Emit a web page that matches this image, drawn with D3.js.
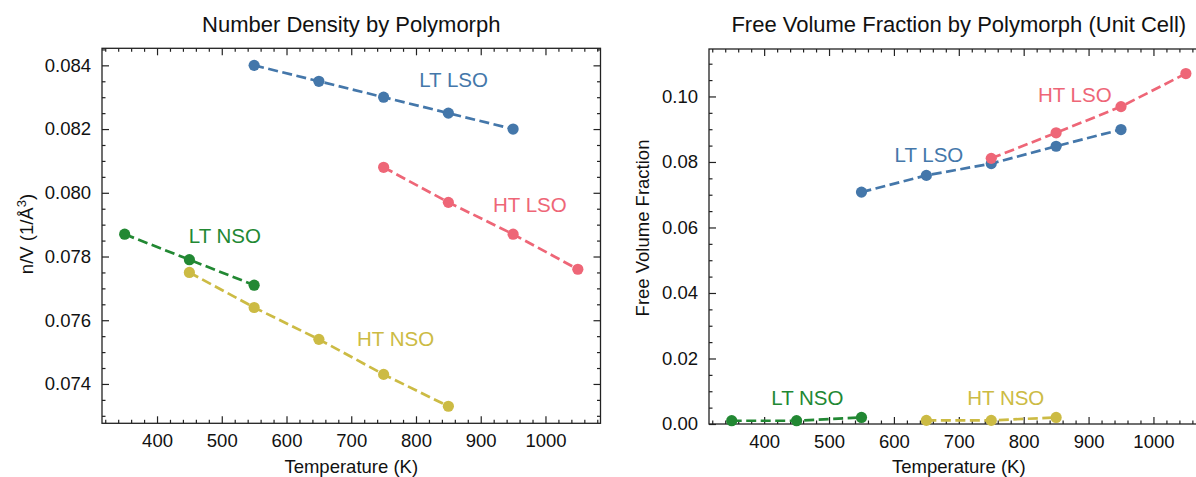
<!DOCTYPE html>
<html>
<head>
<meta charset="utf-8">
<script src="https://cdn.jsdelivr.net/npm/d3@7"></script>
<style>
  html, body { margin: 0; padding: 0; background: #fff; overflow: hidden; }
  svg { display: block; }
  text { font-family: "Liberation Sans", Arial, Helvetica, sans-serif; fill: #111; }
</style>
</head>
<body>
<svg id="chart" width="1196" height="477"></svg>
<script>
// Temperatures (K) for each polymorph
const tempLTLSO = [550, 650, 750, 850, 950];
const tempHTLSO = [750, 850, 950, 1050];
const tempLTNSO = [350, 450, 550];
const tempHTNSO_density = [450, 550, 650, 750, 850];
const tempHTNSO_free = [650, 750, 850];

// Number density n/V (1/Å^3)
const densLTLSO = [0.0840, 0.0835, 0.0830, 0.0825, 0.0820];
const densHTLSO = [0.0808, 0.0797, 0.0787, 0.0776];
const densLTNSO = [0.0787, 0.0779, 0.0771];
const densHTNSO = [0.0775, 0.0764, 0.0754, 0.0743, 0.0733];

// Free volume fraction (unit cell)
const fvfLTLSO = [0.0708, 0.0759, 0.0795, 0.0848, 0.0899];
const fvfHTLSO = [0.0811, 0.0889, 0.0969, 0.1070];
const fvfLTNSO = [0.0010, 0.0010, 0.0020];
const fvfHTNSO = [0.0011, 0.0011, 0.0020];

const seriesNames = ["LT LSO", "HT LSO", "LT NSO", "HT NSO"];
const seriesColors = ["#4477AA", "#EE6677", "#228833", "#CCBB44"];

// Label anchor points, in data units: [temperature, value]
const densLabelPos = [[805, 0.08332], [919, 0.07940], [449, 0.07841], [709, 0.07519]];
const fvfLabelPos = [[601, 0.0799], [822, 0.0984], [411, 0.0057], [713, 0.0057]];

const xTicks = [400, 500, 600, 700, 800, 900, 1000];
const densTicks = [0.074, 0.076, 0.078, 0.080, 0.082, 0.084];
const fvfTicks = [0.00, 0.02, 0.04, 0.06, 0.08, 0.10];

const svg = d3.select("#chart");

function rangeStep(lo, hi, step) {
  const out = [];
  const start = Math.ceil(lo / step - 1e-9);
  const end = Math.floor(hi / step + 1e-9);
  for (let i = start; i <= end; i++) out.push(+(i * step).toFixed(6));
  return out;
}

function panel(opt) {
  const g = svg.append("g");
  const x = d3.scaleLinear().domain(opt.xDomain).range([opt.left, opt.right]);
  const y = d3.scaleLinear().domain(opt.yDomain).range([opt.bottom, opt.top]);

  const major = 7, minor = 3.5, pad = 11;
  const xMinor = rangeStep(opt.xDomain[0], opt.xDomain[1], 20).filter(v => v % 100 !== 0);
  const yMinor = rangeStep(opt.yDomain[0], opt.yDomain[1], opt.yMinorStep)
    .filter(v => !opt.yTicks.some(t => Math.abs(t - v) < 1e-9));

  function styleAxis(sel) {
    sel.select(".domain").remove();
    sel.selectAll(".tick line").attr("stroke", "#222").attr("stroke-width", 1.2);
    sel.selectAll(".tick text").attr("font-size", "18.5px").attr("fill", "#111")
      .style("font-family", '"Liberation Sans", Arial, Helvetica, sans-serif');
  }

  // bottom
  g.append("g").attr("transform", `translate(0,${opt.bottom})`)
    .call(d3.axisBottom(x).tickValues(xTicks).tickFormat(d3.format("d")).tickSize(-major).tickPadding(pad))
    .call(styleAxis);
  g.append("g").attr("transform", `translate(0,${opt.bottom})`)
    .call(d3.axisBottom(x).tickValues(xMinor).tickFormat("").tickSize(-minor))
    .call(styleAxis);
  // top
  g.append("g").attr("transform", `translate(0,${opt.top})`)
    .call(d3.axisTop(x).tickValues(xTicks).tickFormat("").tickSize(-major))
    .call(styleAxis);
  g.append("g").attr("transform", `translate(0,${opt.top})`)
    .call(d3.axisTop(x).tickValues(xMinor).tickFormat("").tickSize(-minor))
    .call(styleAxis);
  // left
  g.append("g").attr("transform", `translate(${opt.left},0)`)
    .call(d3.axisLeft(y).tickValues(opt.yTicks).tickFormat(d3.format(opt.yFormat)).tickSize(-major).tickPadding(pad))
    .call(styleAxis);
  g.append("g").attr("transform", `translate(${opt.left},0)`)
    .call(d3.axisLeft(y).tickValues(yMinor).tickFormat("").tickSize(-minor))
    .call(styleAxis);
  // right
  g.append("g").attr("transform", `translate(${opt.right},0)`)
    .call(d3.axisRight(y).tickValues(opt.yTicks).tickFormat("").tickSize(-major))
    .call(styleAxis);
  g.append("g").attr("transform", `translate(${opt.right},0)`)
    .call(d3.axisRight(y).tickValues(yMinor).tickFormat("").tickSize(-minor))
    .call(styleAxis);

  // frame
  g.append("rect")
    .attr("x", opt.left).attr("y", opt.top)
    .attr("width", opt.right - opt.left).attr("height", opt.bottom - opt.top)
    .attr("fill", "none").attr("stroke", "#222").attr("stroke-width", 1.3);

  // series
  const line = d3.line().x(d => x(d[0])).y(d => y(d[1]));
  opt.series.forEach((s, i) => {
    const pts = s.t.map((t, j) => [t, s.v[j]]);
    const sg = g.append("g");
    sg.append("path").datum(pts)
      .attr("d", line)
      .attr("fill", "none")
      .attr("stroke", seriesColors[i])
      .attr("stroke-width", 2.7)
      .attr("stroke-dasharray", "10,4.5");
    sg.selectAll("circle").data(pts).join("circle")
      .attr("cx", d => x(d[0])).attr("cy", d => y(d[1]))
      .attr("r", 5.6).attr("fill", seriesColors[i]);
  });

  // series labels
  opt.labels.forEach((p, i) => {
    g.append("text")
      .attr("x", x(p[0])).attr("y", y(p[1]))
      .attr("font-size", "20.5px")
      .style("fill", seriesColors[i])
      .text(seriesNames[i]);
  });

  // title
  g.append("text")
    .attr("x", (opt.left + opt.right) / 2).attr("y", 32)
    .attr("text-anchor", "middle").attr("font-size", "22px")
    .text(opt.title);

  // x label
  g.append("text")
    .attr("x", (opt.left + opt.right) / 2).attr("y", 472.5)
    .attr("text-anchor", "middle").attr("font-size", "18.5px")
    .text("Temperature (K)");

  // y label
  const yl = g.append("text")
    .attr("transform", `translate(${opt.yLabelX},${opt.yLabelY}) rotate(-90)`)
    .attr("text-anchor", "middle").attr("font-size", "18.5px");
  opt.yLabel(yl);
}

panel({
  left: 102, right: 600.5, top: 48.3, bottom: 423.3,
  xDomain: [315, 1085],
  yDomain: [0.072765, 0.084535],
  yTicks: densTicks, yFormat: ".3f", yMinorStep: 0.0005,
  series: [
    { t: tempLTLSO, v: densLTLSO },
    { t: tempHTLSO, v: densHTLSO },
    { t: tempLTNSO, v: densLTNSO },
    { t: tempHTNSO_density, v: densHTNSO }
  ],
  labels: densLabelPos,
  title: "Number Density by Polymorph",
  yLabelX: 33, yLabelY: 234,
  yLabel: t => {
    t.append("tspan").text("n/V (1/Å");
    t.append("tspan").attr("baseline-shift", "super").attr("font-size", "13px").text("3");
    t.append("tspan").text(")");
  }
});

panel({
  left: 709, right: 1208.6, top: 49, bottom: 424,
  xDomain: [315, 1085],
  yDomain: [0, d3.max(fvfHTLSO) * 1.07],
  yTicks: fvfTicks, yFormat: ".2f", yMinorStep: 0.005,
  series: [
    { t: tempLTLSO, v: fvfLTLSO },
    { t: tempHTLSO, v: fvfHTLSO },
    { t: tempLTNSO, v: fvfLTNSO },
    { t: tempHTNSO_free, v: fvfHTNSO }
  ],
  labels: fvfLabelPos,
  title: "Free Volume Fraction by Polymorph (Unit Cell)",
  yLabelX: 649, yLabelY: 228,
  yLabel: t => t.text("Free Volume Fraction")
});
</script>
</body>
</html>
